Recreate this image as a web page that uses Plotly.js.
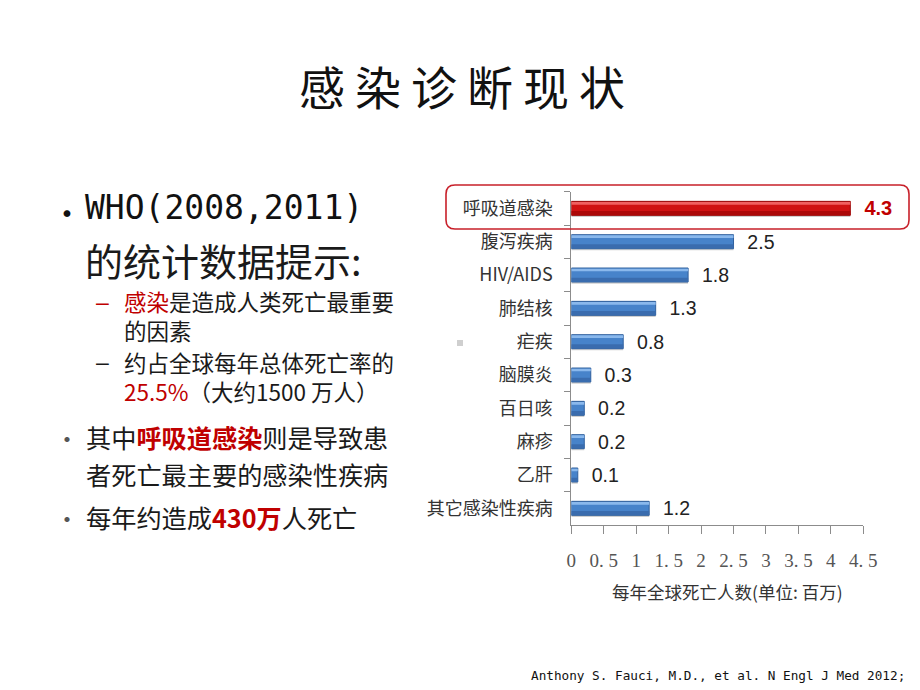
<!DOCTYPE html>
<html>
<head>
<meta charset="utf-8">
<script src="https://cdn.plot.ly/plotly-3.0.1.min.js"></script>
<style>
  html, body { margin: 0; padding: 0; background: #fff; }
  #chart { width: 920px; height: 690px; }
</style>
</head>
<body>
<div id="chart"></div>
<script>
// chart data
const categories = ['呼吸道感染', '腹泻疾病', 'HIV/AIDS', '肺结核', '疟疾', '脑膜炎', '百日咳', '麻疹', '乙肝', '其它感染性疾病'];
const deaths = [4.3, 2.5, 1.8, 1.3, 0.8, 0.3, 0.2, 0.2, 0.1, 1.2];
const xTickVals = [0, 0.5, 1, 1.5, 2, 2.5, 3, 3.5, 4, 4.5];
const xTickText = ['0', '0. 5', '1', '1. 5', '2', '2. 5', '3', '3. 5', '4', '4. 5'];
const xTitle = '每年全球死亡人数(单位: 百万)';
const slideTitle = '感染诊断现状';
const footer = 'Anthony S. Fauci, M.D., et al. N Engl J Med 2012;';

const W = 920, H = 690;
const CJK = '"Noto Sans CJK SC", "Noto Sans", sans-serif';
const RED = '#c00000';

// pixel -> paper (margins are 0 so paper == whole figure)
function px(x) { return x / W; }
function py(y) { return 1 - y / H; }

function note(text, x, y, size, extra) {
	return Object.assign({
		text: text, xref: 'paper', yref: 'paper', x: px(x), y: py(y),
		xanchor: 'left', yanchor: 'middle', showarrow: false, align: 'left',
		font: { family: CJK, size: size, color: '#1a1a1a' }
	}, extra || {});
}

function bullet(x, y, size, color) {
	return note('•', x, y, size, { xanchor: 'center', font: { family: CJK, size: size, color: color } });
}

let isTop = categories.map((c, i) => i === 0);
let baseCol = isTop.map(t => t ? '#d01212' : '#4783ca');
let lineCol = isTop.map(t => t ? '#9a0a0a' : '#2f5f9c');
let hiCol = isTop.map(t => t ? '#f06060' : '#8ab8ec');
let loCol = isTop.map(t => t ? '#ac0808' : '#3a6cae');
let labels = deaths.map((v, i) => isTop[i] ? '<b>' + v.toFixed(1) + '</b>' : v.toFixed(1));

let traces = [
	{
		// soft shadow under each bar
		type: 'bar', orientation: 'h', y: categories, x: deaths,
		width: 0.05, offset: 0.21,
		marker: { color: 'rgba(120,120,120,0.35)', line: { width: 0 } },
		hoverinfo: 'skip'
	},
	{
		type: 'bar', orientation: 'h', y: categories, x: deaths,
		width: 0.42,
		marker: { color: baseCol, line: { color: lineCol, width: 1 } },
		text: labels, textposition: 'outside', cliponaxis: false,
		constraintext: 'none',
		texttemplate: '  %{text}',
		textfont: { family: 'Liberation Sans, Arial, sans-serif', size: isTop.map(t => t ? 20 : 19.5), color: isTop.map(t => t ? RED : '#222') },
		hoverinfo: 'skip'
	},
	{
		type: 'bar', orientation: 'h', y: categories, x: deaths,
		width: 0.08, offset: -0.19,
		marker: { color: hiCol, line: { width: 0 } },
		hoverinfo: 'skip'
	},
	{
		type: 'bar', orientation: 'h', y: categories, x: deaths,
		width: 0.12, offset: 0.08,
		marker: { color: loCol, line: { width: 0 } },
		hoverinfo: 'skip'
	}
];

let annotations = [
	// slide title
	{
		text: '<span style="letter-spacing:10px">' + slideTitle + '</span>',
		xref: 'paper', yref: 'paper', x: px(467), y: py(85), xanchor: 'center', yanchor: 'middle',
		showarrow: false, font: { family: CJK, size: 46, color: '#111' }
	},
	// left bullets
	bullet(67, 212, 32, '#111'),
	note('WHO(2008,2011)', 83, 208, 33, { font: { family: '"DejaVu Sans Mono", monospace', size: 33, color: '#111' } }),
	note('的统计数据提示:', 83, 259, 38),
	note('–', 94, 302, 23, { font: { family: 'Liberation Sans, sans-serif', size: 23, color: RED } }),
	note('<span style="color:' + RED + '">感染</span>是造成人类死亡最重要<br>的因素', 122, 316, 22.5),
	note('–', 94, 362, 23, { font: { family: 'Liberation Sans, sans-serif', size: 23, color: '#1a1a1a' } }),
	note('约占全球每年总体死亡率的<br><span style="color:' + RED + '">25.5%</span>（大约1500 万人）', 122, 376, 22.5),
	bullet(67, 437, 24, '#555'),
	note('其中<b><span style="color:' + RED + '">呼吸道感染</span></b>则是导致患', 84, 437, 25.2),
	note('者死亡最主要的感染性疾病', 84, 474, 25.2),
	bullet(67, 517, 24, '#555'),
	note('每年约造成<b><span style="color:' + RED + '">430万</span></b>人死亡', 84, 517, 25.2),
	// x axis title
	note(xTitle, 727, 591, 17.5, { xanchor: 'center', font: { family: CJK, size: 17.5, color: '#333' } }),
	// reference
	note(footer, 907, 675, 12.7, { xanchor: 'right', font: { family: '"DejaVu Sans Mono", monospace', size: 12.7, color: '#111' } })
];

// rounded red frame around the top category
let bx0 = 446, bx1 = 909, by0 = 185, by1 = 229, r = 9;
let framePath = [
	'M', px(bx0 + r), py(by0),
	'L', px(bx1 - r), py(by0),
	'Q', px(bx1), py(by0), px(bx1), py(by0 + r),
	'L', px(bx1), py(by1 - r),
	'Q', px(bx1), py(by1), px(bx1 - r), py(by1),
	'L', px(bx0 + r), py(by1),
	'Q', px(bx0), py(by1), px(bx0), py(by1 - r),
	'L', px(bx0), py(by0 + r),
	'Q', px(bx0), py(by0), px(bx0 + r), py(by0),
	'Z'
].join(' ');

let shapes = [
	{ type: 'path', xref: 'paper', yref: 'paper', path: framePath, line: { color: '#c8202a', width: 1.6 } },
	{ type: 'rect', xref: 'paper', yref: 'paper', x0: px(457), x1: px(463), y0: py(340), y1: py(346), fillcolor: '#cfcfcf', line: { width: 0 } }
];

let layout = {
	width: W, height: H,
	margin: { l: 0, r: 0, t: 0, b: 0 },
	paper_bgcolor: '#fff', plot_bgcolor: 'rgba(0,0,0,0)',
	showlegend: false,
	barmode: 'overlay',
	xaxis: {
		domain: [px(571.3), px(863.3)],
		range: [0, 4.5],
		tickmode: 'array', tickvals: xTickVals, ticktext: xTickText,
		showgrid: false, zeroline: false,
		showline: true, linecolor: '#8c8c8c', linewidth: 1,
		ticks: 'outside', ticklen: 8, tickcolor: '#8c8c8c',
		ticklabelstandoff: 10,
		tickfont: { family: '"Liberation Serif", "DejaVu Serif", serif', size: 19, color: '#555' }
	},
	yaxis: {
		domain: [py(525), py(191.7)],
		type: 'category',
		range: [9.5, -0.5],
		showgrid: false, zeroline: false,
		showline: true, linecolor: '#8c8c8c', linewidth: 1,
		ticks: 'outside', ticklen: 6, tickcolor: '#8c8c8c',
		tickson: 'boundaries',
		ticklabelstandoff: 14,
		tickfont: { family: CJK, size: 18, color: '#333' }
	},
	annotations: annotations,
	shapes: shapes
};

Plotly.newPlot('chart', traces, layout, { staticPlot: true });
</script>
</body>
</html>
